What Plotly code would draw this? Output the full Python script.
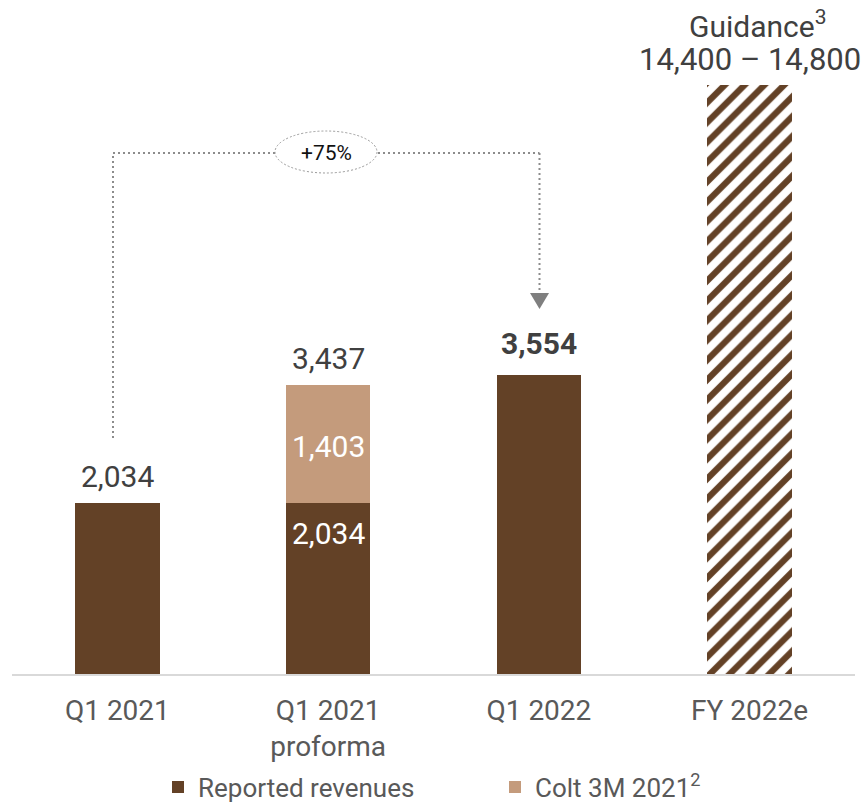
import plotly.graph_objects as go

categories = ["Q1 2021", "Q1 2021 proforma", "Q1 2022", "FY 2022e"]
tick_labels = ["Q1 2021", "Q1 2021<br>proforma", "Q1 2022", "FY 2022e"]
reported = [2034, 2034, 3554]
reported_cats = ["Q1 2021", "Q1 2021 proforma", "Q1 2022"]
colt = [1403]
colt_cats = ["Q1 2021 proforma"]
guidance_low, guidance_high = 14400, 14800
totals = [2034, 3437, 3554]
growth_label = "+75%"

DARK = "#634126"
LIGHT = "#C49B7C"
TXT = "#404040"
TICK = "#595959"
FONT = "Roboto"

W, H = 866, 802
ML, MR, MT, MB = 12, 11, 85, 128
YMAX = 7000
PW = W - ML - MR
PH = H - MT - MB

def px_to_idx(px):
    return (px - ML) / (PW / len(categories)) - 0.5

def py_to_val(py):
    return ((H - MB) - py) / PH * YMAX

def px_to_paper(px):
    return (px - ML) / PW

def py_to_paper(py):
    return ((H - MB) - py) / PH

fig = go.Figure()
fig.add_trace(go.Bar(x=reported_cats, y=reported, name="Reported revenues",
                     marker=dict(color=DARK, line=dict(width=0))))
fig.add_trace(go.Bar(x=colt_cats, y=colt, name="Colt 3M 2021<sup>2</sup>",
                     marker=dict(color=LIGHT, line=dict(width=0))))
fig.add_trace(go.Bar(x=["FY 2022e"], y=[(guidance_low + guidance_high) / 2],
                     name="Guidance", showlegend=False,
                     marker=dict(color="white", line=dict(width=0),
                                 pattern=dict(shape="/", fgcolor=DARK, bgcolor="white",
                                              fgopacity=1, size=14, solidity=0.45,
                                              fillmode="replace"))))

annotations = []
for cat, v, bold in zip(["Q1 2021", "Q1 2021 proforma", "Q1 2022"], totals, [False, False, True]):
    annotations.append(dict(x=cat, y=v, text=(f"<b>{v:,}</b>" if bold else f"{v:,}"),
                            showarrow=False, yanchor="middle",
                            yshift=(31 if bold else 26),
                            font=dict(family=FONT, size=30, color=TXT,
                                      weight=(900 if bold else 400))))
annotations.append(dict(x="Q1 2021 proforma", y=reported[1] + colt[0] / 2, text=f"{colt[0]:,}",
                        showarrow=False, yanchor="middle", yshift=-3,
                        font=dict(family=FONT, size=30, color="white")))
annotations.append(dict(x="Q1 2021 proforma", y=reported[1], text=f"{reported[1]:,}",
                        showarrow=False, yanchor="middle", yshift=-31,
                        font=dict(family=FONT, size=30, color="white")))
annotations.append(dict(x="FY 2022e", y=py_to_paper(25), yref="paper", text="Guidance<sup>3</sup>",
                        showarrow=False, yanchor="middle", xshift=8,
                        font=dict(family=FONT, size=30, color=TXT)))
annotations.append(dict(x="FY 2022e", y=py_to_paper(60), yref="paper",
                        text=f"{guidance_low:,} – {guidance_high:,}",
                        showarrow=False, yanchor="middle",
                        font=dict(family=FONT, size=31, color=TXT)))
annotations.append(dict(x=px_to_idx(326), y=py_to_val(153), text=growth_label,
                        showarrow=False, yanchor="middle",
                        font=dict(family=FONT, size=21, color="#111111")))

LINE = dict(color="#8c8c8c", width=2, dash="2px,3px")
xl, xr = px_to_idx(113), px_to_idx(539.5)
ytop = py_to_val(153)
shapes = [
    dict(type="line", xref="x", yref="y", x0=xl, x1=xl, y0=py_to_val(438), y1=ytop, line=LINE),
    dict(type="line", xref="x", yref="y", x0=xl, x1=xr, y0=ytop, y1=ytop, line=LINE),
    dict(type="line", xref="x", yref="y", x0=xr, x1=xr, y0=ytop, y1=py_to_val(293), line=LINE),
    dict(type="circle", xref="x", yref="y", x0=px_to_idx(275), x1=px_to_idx(377),
         y0=py_to_val(173), y1=py_to_val(131), fillcolor="white",
         line=dict(color="#9a9a9a", width=1, dash="2px,2px")),
    dict(type="path", xref="paper", yref="paper",
         path=(f"M {px_to_paper(530)} {py_to_paper(293)} L {px_to_paper(549)} {py_to_paper(293)} "
               f"L {px_to_paper(539.5)} {py_to_paper(309)} Z"),
         fillcolor="#7f7f7f", line=dict(width=0)),
]

fig.update_layout(
    width=W, height=H, barmode="stack", bargap=0.6,
    margin=dict(l=ML, r=MR, t=MT, b=MB, autoexpand=False),
    plot_bgcolor="white", paper_bgcolor="white",
    font=dict(family=FONT, color=TXT),
    xaxis=dict(categoryorder="array", categoryarray=categories,
               range=[-0.5, len(categories) - 0.5], autorange=False,
               tickvals=categories, ticktext=tick_labels,
               showline=True, linecolor="#d9d9d9", linewidth=2,
               ticks="", showgrid=False, zeroline=False,
               tickfont=dict(family=FONT, size=28, color=TICK),
               ticklabelstandoff=10),
    yaxis=dict(range=[0, YMAX], visible=False, showgrid=False, zeroline=False),
    showlegend=True,
    legend=dict(orientation="h", x=px_to_paper(158), xanchor="left",
                yref="container", y=(H - 787) / H, yanchor="middle",
                entrywidth=292, entrywidthmode="pixels",
                font=dict(family=FONT, size=26, color=TICK),
                traceorder="normal", itemclick=False),
    annotations=annotations, shapes=shapes,
)

fig.write_html("out.html")
